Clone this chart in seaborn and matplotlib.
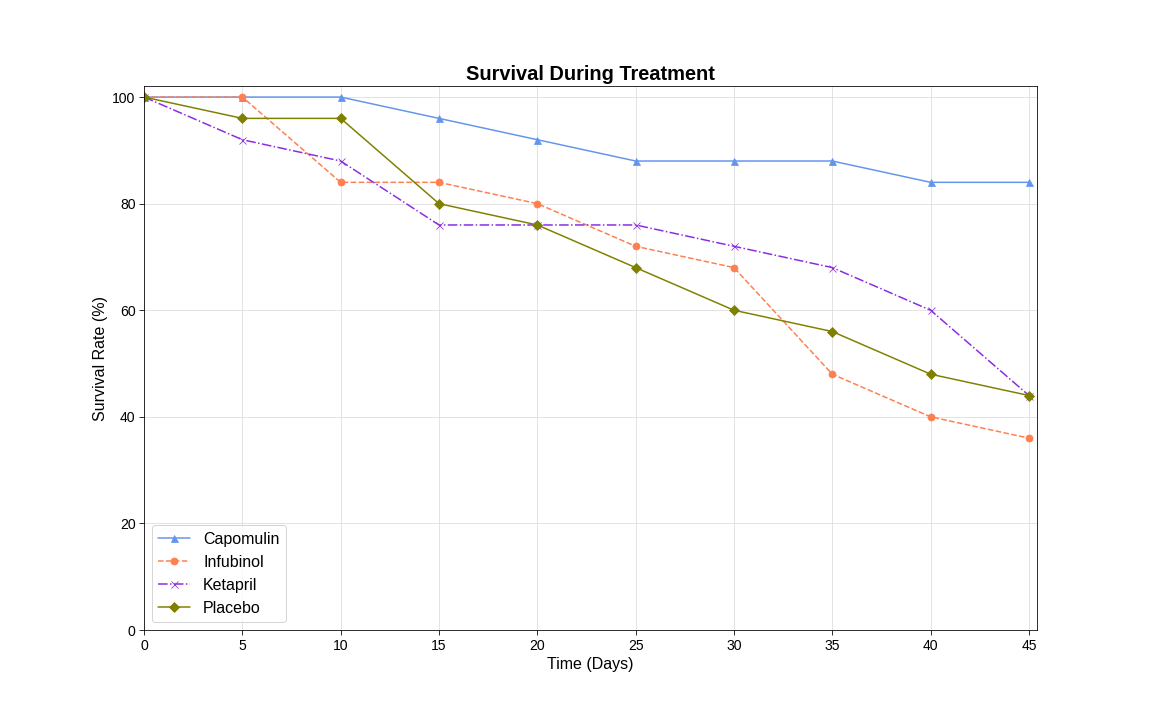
import pandas as pd
import matplotlib.pyplot as plt
import seaborn as sns

days = [0, 5, 10, 15, 20, 25, 30, 35, 40, 45]
capomulin = [100, 100, 100, 96, 92, 88, 88, 88, 84, 84]
infubinol = [100, 100, 84, 84, 80, 72, 68, 48, 40, 36]
ketapril = [100, 92, 88, 76, 76, 76, 72, 68, 60, 44]
placebo = [100, 96, 96, 80, 76, 68, 60, 56, 48, 44]

drugs = ["Capomulin", "Infubinol", "Ketapril", "Placebo"]
colors = ["cornflowerblue", "coral", "blueviolet", "olive"]
markers = ["^", "o", "x", "D"]
styles = ["-", "--", "-.", "-"]

survival = pd.DataFrame({"Capomulin": capomulin, "Infubinol": infubinol,
                         "Ketapril": ketapril, "Placebo": placebo}, index=days)

sns.set_style("ticks")
plt.rcParams["font.family"] = ["Liberation Sans", "DejaVu Sans"]
plt.rcParams["text.color"] = "black"
plt.rcParams["axes.labelcolor"] = "black"
plt.rcParams["xtick.color"] = "black"
plt.rcParams["ytick.color"] = "black"

fig, ax = plt.subplots(figsize=(16, 10), dpi=72)
fig.subplots_adjust(left=0.125, right=0.9, top=0.88, bottom=0.125)

for i, drug in enumerate(drugs):
    sns.lineplot(x=survival.index, y=survival[drug], ax=ax, color=colors[i],
                 marker=markers[i], linestyle=styles[i], markersize=7,
                 markeredgecolor=colors[i], label=drug)

ax.grid(True, color="#dddddd", linewidth=0.8)
for s in ax.spines.values():
    s.set_color("black")
ax.set_xlim(0, 45.4)
ax.set_ylim(0, 102)
ax.set_xticks(days)
ax.set_yticks([0, 20, 40, 60, 80, 100])
ax.tick_params(labelsize=14, color="black", length=5)
ax.set_title("Survival During Treatment", fontsize=20, fontweight="bold", color="black")
ax.set_xlabel("Time (Days)", fontsize=16)
ax.set_ylabel("Survival Rate (%)", fontsize=16)
ax.legend(loc="lower left", fontsize=16, frameon=True)

plt.savefig("out.png")
